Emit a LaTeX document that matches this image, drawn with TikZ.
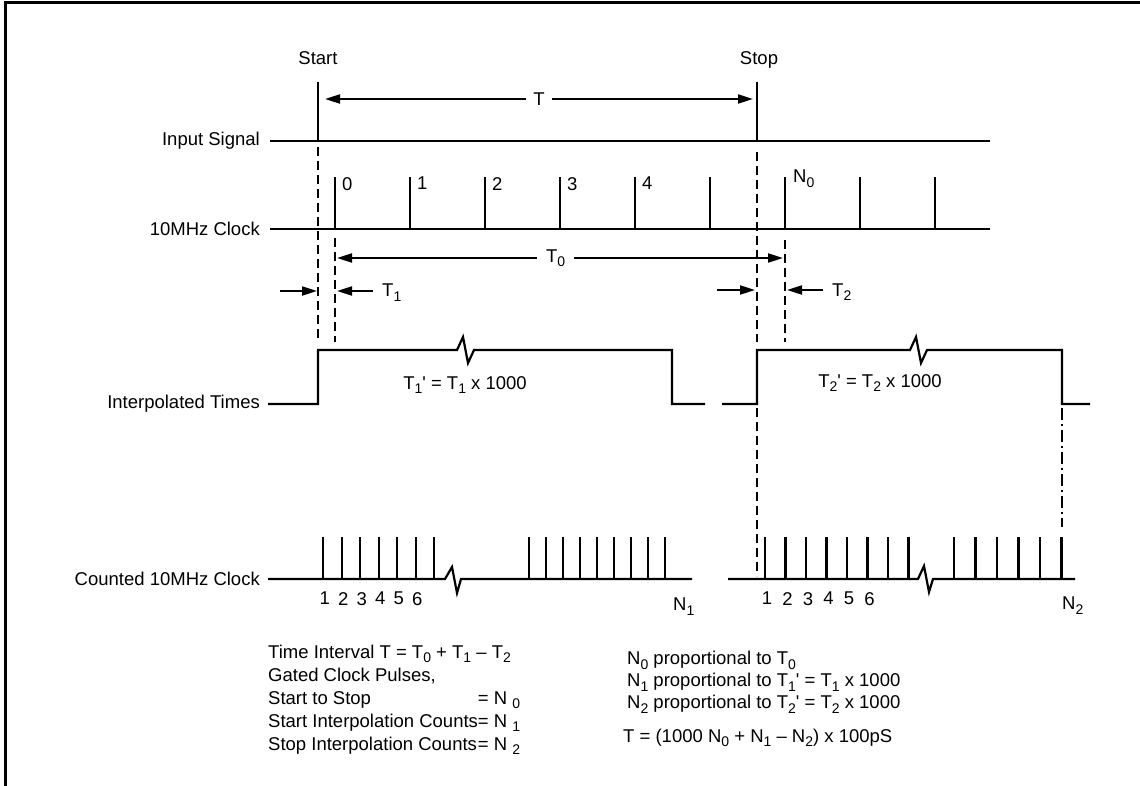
\documentclass[tikz,border=0pt]{standalone}
\usepackage{fontspec}
\setmainfont{Liberation Sans}
\usetikzlibrary{positioning}
\usetikzlibrary{arrows.meta}

\tikzset{
	wave/.style={line width=2.2pt, line join=miter},
	guide/.style={line width=1.4pt, dash pattern=on 9pt off 5pt},
	guidedot/.style={line width=1.4pt, dash pattern=on 12pt off 4pt on 2pt off 4pt},
	span/.style={line width=2pt, -{Triangle[length=15pt,width=9pt]}},
	spanboth/.style={line width=2pt, {Triangle[length=15pt,width=9pt]}-{Triangle[length=15pt,width=9pt]}},
	signame/.style={anchor=east, inner sep=0pt},
	tick/.style={anchor=north west, inner sep=0pt},
	count/.style={anchor=north, inner sep=0pt},
}

\newcommand{\lowix}[1]{\raisebox{-4.5pt}{\fontsize{14}{14}\selectfont #1}}

\begin{document}
\begin{tikzpicture}[x=1pt,y=-1pt,font=\fontsize{18.5}{23}\selectfont]

	\useasboundingbox (0,0) rectangle (1140,786);

	%Frame
	\draw[line width=3pt] (5,786) -- (5,3) -- (1140,3);

	%Signal names
	\node[signame] (InName) at (260,141) {Input Signal};
	\node[signame] (ClkName) at (260,229) {10MHz Clock};
	\node[signame] (IntName) at (260,404) {Interpolated Times};
	\node[signame] (CntName) at (260,579) {Counted 10MHz Clock};

	%%%%%%%%%%%%%%%%%%%%%%%%%%%%%%%%%%%%%%%%%%%%%%%%%%%%%%%%%
	%Input signal
	\node[anchor=base] (Start) at (318,65) {Start};
	\node[anchor=base] (Stop) at (759,65) {Stop};
	\draw[wave] (270,141) -- (990,141);
	\draw[wave] (318,82) -- (318,141);
	\draw[wave] (757,82) -- (757,141);

	\coordinate (TL) at (325,99);
	\coordinate (TR) at (753,99);
	\draw[spanboth] (TL) -- node[fill=white, inner sep=7pt] (TLbl) {T} (TR);

	%Clock
	\draw[wave] (270,229) -- (990,229);
	\foreach \x in {335,410,...,935}
		\draw[wave] (\x,229) -- (\x,177);
	\foreach \k in {0,...,4}
		\node[tick] (ClkLbl\k) at ({342+75*\k},177) {\k};
	\node[tick] (ClkN) at (793,170) {N\lowix{0}};

	%Dashed guides
	\draw[guide] (318,147) -- (318,342);
	\draw[guide] (335,238) -- (335,342);
	\draw[guide] (757,152) -- (757,342);
	\draw[guide] (785,240) -- (785,342);
	\draw[guide] (757,408) -- (757,576);
	\draw[guidedot] (1062,408) -- (1062,527);

	%T0, T1, T2
	\coordinate (T0L) at (337,258);
	\coordinate (T0R) at (783,258);
	\draw[spanboth] (T0L) -- node[fill=white, inner sep=9pt, pos=0.49] (T0Lbl) {T\lowix{0}} (T0R);

	\coordinate (T1a) at (280,291);
	\coordinate (T1b) at (317,291);
	\coordinate (T1c) at (373,291);
	\coordinate (T1d) at (337,291);
	\draw[span] (T1a) -- (T1b);
	\draw[span] (T1c) -- (T1d);
	\node[anchor=base west, inner sep=0pt] (T1Lbl) at (382,297) {T\lowix{1}};

	\coordinate (T2a) at (717,290);
	\coordinate (T2b) at (755,290);
	\coordinate (T2c) at (823,290);
	\coordinate (T2d) at (787,290);
	\draw[span] (T2a) -- (T2b);
	\draw[span] (T2c) -- (T2d);
	\node[anchor=base west, inner sep=0pt] (T2Lbl) at (832,296) {T\lowix{2}};

	%Interpolated times
	\draw[wave] (268,404) -- (318,404) -- (318,350) -- (457,350) -- (463,337)
		-- (468,363) -- (474,350) -- (672,350) -- (672,404) -- (705,404);
	\draw[wave] (722,404) -- (757,404) -- (757,350) -- (910,350) -- (916,337)
		-- (921,363) -- (927,350) -- (1062,350) -- (1062,404) -- (1090,404);
	\node (T1Stretch) at (465,385) {T\lowix{1}\textquotesingle{} = T\lowix{1} x 1000};
	\node (T2Stretch) at (880,383) {T\lowix{2}\textquotesingle{} = T\lowix{2} x 1000};

	%Counted clock
	\draw[wave] (268,579) -- (445,579) -- (452,567) -- (457,593) -- (461,579) -- (692,579);
	\foreach \k in {0,...,6}
		\draw[wave] ({323.3+18.5*\k},579) -- ({323.3+18.5*\k},537);
	\foreach \k in {0,...,8}
		\draw[wave] ({529.3+17*\k},579) -- ({529.3+17*\k},537);
	\foreach \k in {1,...,6}
		\node[count] (CntA\k) at ({306.3+18.5*\k},592) {\k};
	\node[tick] (CntAN) at (673,598) {N\lowix{1}};

	\draw[wave] (728,579) -- (918,579) -- (924,566) -- (929,592) -- (933,579) -- (1075,579);
	\foreach \k in {0,...,7}
		\draw[wave] ({765+20.5*\k},579) -- ({765+20.5*\k},537);
	\foreach \k in {0,...,5}
		\draw[wave] ({954+21.5*\k},579) -- ({954+21.5*\k},537);
	\foreach \k in {1,...,6}
		\node[count] (CntB\k) at ({746.5+20.5*\k},592) {\k};
	\node[tick] (CntBN) at (1062,597) {N\lowix{2}};

	%Summary
	\node[anchor=north west, inner sep=0pt] (Sum) at (268,642) {%
		\begin{tabular}{@{}l@{}l@{}}
			\multicolumn{2}{@{}l@{}}{Time Interval T = T\lowix{0} + T\lowix{1} -- T\lowix{2}}\\
			\multicolumn{2}{@{}l@{}}{Gated Clock Pulses,}\\
			Start to Stop & = N \lowix{0}\\
			Start Interpolation Counts & = N \lowix{1}\\
			Stop Interpolation Counts & = N \lowix{2}
		\end{tabular}};

	\node[anchor=north west, inner sep=0pt, align=left, font=\fontsize{18.5}{22}\selectfont] (Prop) at (627,651) {%
		N\lowix{0} proportional to T\lowix{0}\\
		N\lowix{1} proportional to T\lowix{1}\textquotesingle{} = T\lowix{1} x 1000\\
		N\lowix{2} proportional to T\lowix{2}\textquotesingle{} = T\lowix{2} x 1000};
	\node[anchor=base west, inner sep=0pt] (Total) at (623,742) {T = (1000 N\lowix{0} + N\lowix{1} -- N\lowix{2}) x 100pS};

\end{tikzpicture}
\end{document}
